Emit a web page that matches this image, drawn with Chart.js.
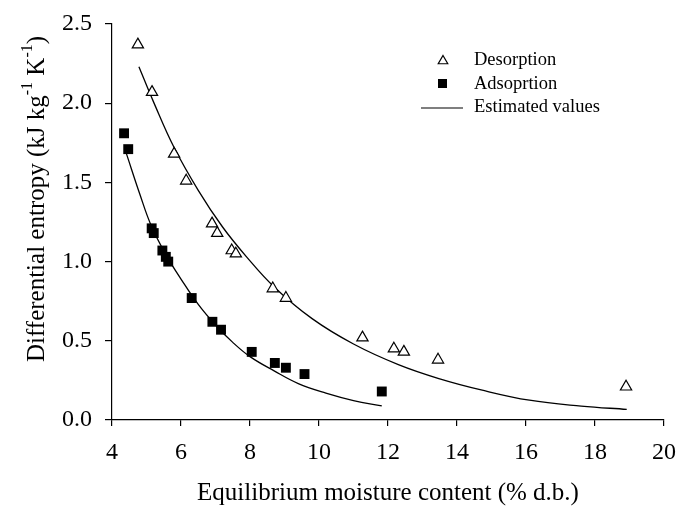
<!DOCTYPE html>
<html>
<head>
<meta charset="utf-8">
<script src="https://cdn.jsdelivr.net/npm/chart.js@4.4.1/dist/chart.umd.min.js"></script>
<style>
  body { margin: 0; background: #fff; }
  canvas { display: block; }
</style>
</head>
<body>
<canvas id="myChart" width="692" height="507"></canvas>
<script>
const desorpX = [4.75, 5.16, 5.80, 6.15, 6.90, 7.05, 7.47, 7.59, 8.66, 9.04, 11.26, 12.17, 12.46, 13.45, 18.90];
const desorpY = [2.37, 2.07, 1.68, 1.51, 1.24, 1.18, 1.07, 1.05, 0.83, 0.77, 0.52, 0.45, 0.43, 0.38, 0.21];
const adsorpX = [4.35, 4.47, 5.15, 5.21, 5.46, 5.56, 5.63, 6.31, 6.91, 7.16, 8.05, 8.72, 9.04, 9.58, 11.82];
const adsorpY = [1.81, 1.71, 1.21, 1.18, 1.07, 1.03, 1.00, 0.77, 0.62, 0.57, 0.43, 0.36, 0.33, 0.29, 0.18];

// estimated values (fitted lines)
const estDesX = [4.78, 5.2, 5.8, 6.5, 7.2, 7.9, 8.7, 9.8, 11.0, 12.3, 13.5, 14.7, 16.1, 17.6, 18.92];
const estDesY = [2.23, 2.01, 1.72, 1.45, 1.22, 1.03, 0.84, 0.64, 0.48, 0.35, 0.26, 0.19, 0.125, 0.088, 0.067];
const estAdsX = [4.42, 4.8, 5.15, 5.6, 6.0, 6.5, 7.0, 7.5, 8.0, 8.7, 9.4, 10.2, 11.0, 11.82];
const estAdsY = [1.68, 1.43, 1.22, 1.03, 0.89, 0.73, 0.60, 0.49, 0.40, 0.31, 0.23, 0.17, 0.123, 0.089];

const xTicks = [4, 6, 8, 10, 12, 14, 16, 18, 20];
const yTicks = [0.0, 0.5, 1.0, 1.5, 2.0, 2.5];

const FONT = '"Liberation Serif", "Times New Roman", serif';

function pts(xs, ys) {
  return xs.map((x, i) => ({ x: x, y: ys[i] }));
}

// axis titles + legend drawn by hand (superscripts, custom layout)
const extras = {
  id: 'extras',
  afterDraw(chart) {
    const ctx = chart.ctx;
    const area = chart.chartArea;
    ctx.save();
    ctx.fillStyle = '#000';
    ctx.strokeStyle = '#000';

    // x title
    ctx.font = '25px ' + FONT;
    ctx.textAlign = 'center';
    ctx.textBaseline = 'middle';
    ctx.fillText('Equilibrium moisture content (% d.b.)', (area.left + area.right) / 2, 493);

    // y title with superscripts
    const parts = [
      ['Differential entropy (kJ kg', false],
      ['-1', true],
      [' K', false],
      ['-1', true],
      [')', false]
    ];
    const big = '25px ' + FONT, small = '16px ' + FONT;
    let total = 0;
    parts.forEach(p => { ctx.font = p[1] ? small : big; total += ctx.measureText(p[0]).width; });
    ctx.translate(37, 199);
    ctx.rotate(-Math.PI / 2);
    ctx.textAlign = 'left';
    ctx.textBaseline = 'middle';
    let px = -total / 2;
    parts.forEach(p => {
      ctx.font = p[1] ? small : big;
      ctx.fillText(p[0], px, p[1] ? -9 : 0);
      px += ctx.measureText(p[0]).width;
    });
    ctx.setTransform(1, 0, 0, 1, 0, 0);

    // legend
    ctx.font = '18.5px ' + FONT;
    ctx.textAlign = 'left';
    ctx.textBaseline = 'middle';
    ctx.lineWidth = 1.2;
    // triangle
    const tx = 443, ty = 61, r = 5.5;
    ctx.beginPath();
    ctx.moveTo(tx, ty - r);
    ctx.lineTo(tx + r * 0.866, ty + r / 2);
    ctx.lineTo(tx - r * 0.866, ty + r / 2);
    ctx.closePath();
    ctx.stroke();
    ctx.fillText(chart.data.datasets[0].label, 474, 60);
    // square
    ctx.fillRect(438, 79, 9, 9);
    ctx.fillText(chart.data.datasets[1].label, 474, 84);
    // line
    ctx.beginPath();
    ctx.moveTo(421, 108);
    ctx.lineTo(463, 108);
    ctx.stroke();
    ctx.fillText(chart.data.datasets[2].label, 474, 107);
    ctx.restore();
  }
};

const canvas = document.getElementById('myChart').getContext('2d');
const myChart = new Chart(canvas, {
  type: 'scatter',
  data: {
    datasets: [
      {
        label: 'Desorption',
        data: pts(desorpX, desorpY),
        pointStyle: 'triangle',
        pointRadius: 6.5,
        backgroundColor: '#fff',
        borderColor: '#000',
        borderWidth: 1.2
      },
      {
        label: 'Adsoprtion',
        data: pts(adsorpX, adsorpY),
        pointStyle: 'rect',
        pointRadius: 7,
        backgroundColor: '#000',
        borderColor: '#000',
        borderWidth: 0
      },
      {
        label: 'Estimated values',
        type: 'line',
        data: pts(estDesX, estDesY),
        showLine: true,
        pointRadius: 0,
        borderColor: '#000',
        borderWidth: 1.3,
        tension: 0.4,
        fill: false
      },
      {
        label: 'Estimated values (adsorption)',
        type: 'line',
        data: pts(estAdsX, estAdsY),
        showLine: true,
        pointRadius: 0,
        borderColor: '#000',
        borderWidth: 1.3,
        tension: 0.4,
        fill: false
      }
    ]
  },
  options: {
    responsive: false,
    animation: false,
    layout: { padding: { top: 24, right: 28, left: 0, bottom: 0 } },
    plugins: {
      legend: { display: false },
      tooltip: { enabled: false }
    },
    scales: {
      x: {
        type: 'linear',
        min: 4,
        max: 20,
        afterFit(s) { s.height = 87; s.paddingLeft = 0; s.paddingRight = 0; },
        afterBuildTicks(s) { s.ticks = xTicks.map(v => ({ value: v })); },
        ticks: {
          color: '#000',
          font: { family: FONT, size: 24 },
          padding: 12,
          maxRotation: 0
        },
        grid: { drawOnChartArea: false, color: '#000', tickLength: 6, lineWidth: 1.2 },
        border: { color: '#000', width: 1.2 }
      },
      y: {
        min: 0,
        max: 2.5,
        afterFit(s) { s.width = 112; s.paddingTop = 0; s.paddingBottom = 0; },
        afterBuildTicks(s) { s.ticks = yTicks.map(v => ({ value: v })); },
        ticks: {
          color: '#000',
          font: { family: FONT, size: 24 },
          padding: 13,
          callback: v => v.toFixed(1)
        },
        grid: { drawOnChartArea: false, color: '#000', tickLength: 7, lineWidth: 1.2 },
        border: { color: '#000', width: 1.2 }
      }
    }
  },
  plugins: [extras]
});
</script>
</body>
</html>
